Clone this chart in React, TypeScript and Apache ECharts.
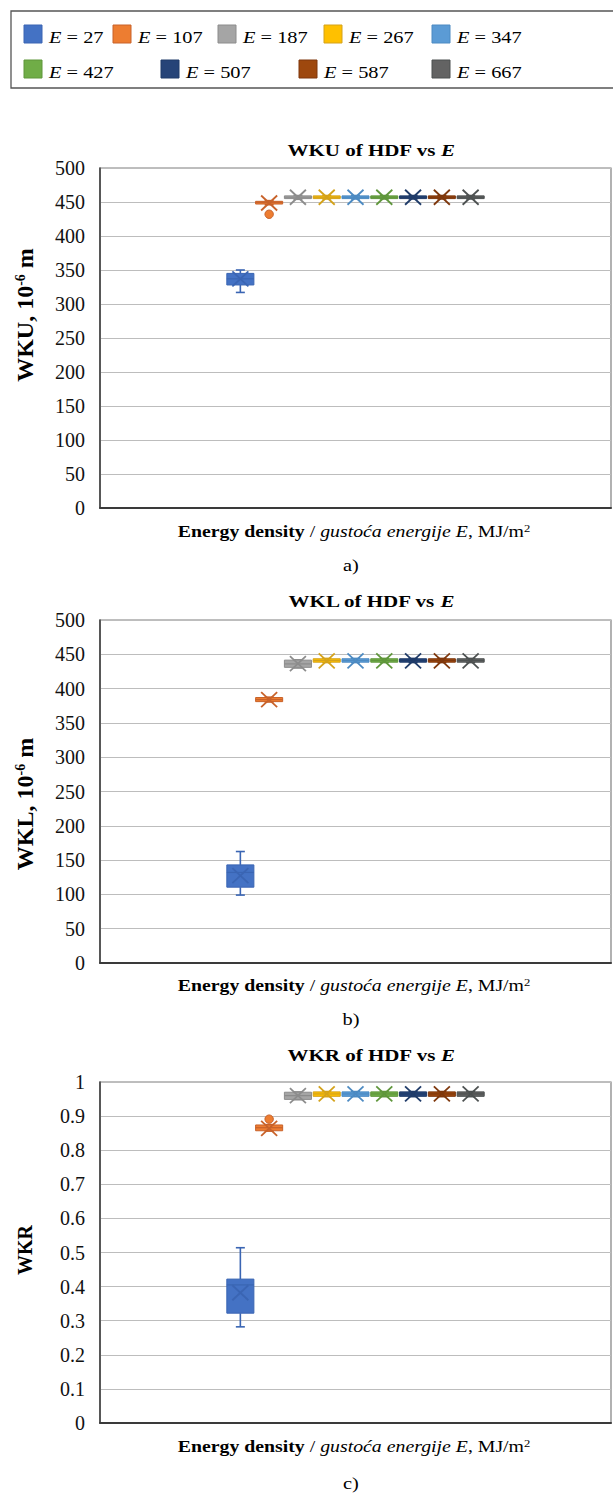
import React, { useEffect, useRef } from 'react';
import * as echarts from 'echarts';

// ---------- data ----------
const energies = [27, 107, 187, 267, 347, 427, 507, 587, 667];
const fillColors = ['#4472C4', '#ED7D31', '#A5A5A5', '#FFC000', '#5B9BD5', '#70AD47', '#264478', '#9E480E', '#636363'];
const strokeColors = ['#3A65B3', '#C8622A', '#8C8C8C', '#D4A21A', '#4C8AC2', '#5F963B', '#1F3B69', '#7E370C', '#4D5151'];

// box statistics per energy: [min, Q1, median, Q3, max, mean]
const wkuStats: number[][] = [
  [317, 328, 337, 345, 350, 337],
  [446, 447, 449.5, 451, 452, 448.5],
  [454, 455, 457, 459, 459.5, 457],
  [454.5, 455, 457, 459, 459.5, 457],
  [454.5, 455, 457, 459, 459.5, 457],
  [454.5, 455, 457, 459, 459.5, 457],
  [454.5, 455, 457, 459, 459.5, 457],
  [454.5, 455, 457, 459, 459.5, 457],
  [454.5, 455, 457, 459, 459.5, 457],
];
const wkuOutliers: number[][] = [[1, 432]];

const wklStats: number[][] = [
  [99, 110.5, 132, 143, 162.5, 127.5],
  [380.5, 381, 384, 387, 387.5, 384],
  [430, 431, 436, 441.5, 442, 436.5],
  [438, 438.5, 441, 443.5, 444, 440.5],
  [438, 438.5, 441, 443.5, 444, 440.5],
  [438, 438.5, 441, 443.5, 444, 440.5],
  [438, 438.5, 441, 443.5, 444, 440.5],
  [438, 438.5, 441, 443.5, 444, 440.5],
  [438, 438.5, 441, 443.5, 444, 440.5],
];
const wklOutliers: number[][] = [];

const wkrStats: number[][] = [
  [0.282, 0.322, 0.405, 0.422, 0.514, 0.382],
  [0.856, 0.857, 0.866, 0.874, 0.875, 0.864],
  [0.948, 0.949, 0.96, 0.97, 0.971, 0.96],
  [0.957, 0.958, 0.965, 0.971, 0.972, 0.965],
  [0.957, 0.958, 0.965, 0.971, 0.972, 0.965],
  [0.957, 0.958, 0.965, 0.971, 0.972, 0.965],
  [0.957, 0.958, 0.965, 0.971, 0.972, 0.965],
  [0.957, 0.958, 0.965, 0.971, 0.972, 0.965],
  [0.957, 0.958, 0.965, 0.971, 0.972, 0.965],
];
const wkrOutliers: number[][] = [[1, 0.891]];

const yMaxes = [500, 500, 1];
const yIntervals = [50, 50, 0.1];
const titleNames = ['WKU', 'WKL', 'WKR'];
const captions = ['a)', 'b)', 'c)'];

// ---------- layout ----------
const FONT = 'Liberation Serif';
const SX = 1.2; // horizontal stretch of the reference's lettering
const gridTops = [168, 620, 1082];
const gridHeights = [340, 343, 341];
const titleYs = [150, 601, 1055];
const yNameYs = [315, 804, 1250];
const yNameSizes = [24, 24, 20];
const xNameYs = [532, 986, 1447];
const captionYs = [565, 1019, 1483];
const GROUP_FRACTION = 0.507;

const panelStats = [wkuStats, wklStats, wkrStats];
const panelOutliers = [wkuOutliers, wklOutliers, wkrOutliers];

function makeRenderItem(outliers: number[][]) {
  return (params: any, api: any) => {
    const idx = api.value(7);
    const base = api.coord([0, 0]);
    const band = api.size([1, 0])[0];
    const groupW = band * GROUP_FRACTION;
    const slot = groupW / energies.length;
    const cx = base[0] - groupW / 2 + slot * (idx + 0.5);
    const bw = slot * 0.94;
    const yv = (v: number) => api.coord([0, v])[1];
    const mn = yv(api.value(1));
    const q1 = yv(api.value(2));
    const md = yv(api.value(3));
    const q3 = yv(api.value(4));
    const mx = yv(api.value(5));
    const mean = yv(api.value(6));
    const stroke = strokeColors[idx];
    const fill = fillColors[idx];
    const cap = 4.5;
    const lw = 1.6;
    const ls = { stroke, lineWidth: lw };
    const xw = 8;
    const xh = 7.5;
    const children: any[] = [
      { type: 'line', shape: { x1: cx, y1: mx, x2: cx, y2: q3 }, style: ls },
      { type: 'line', shape: { x1: cx - cap, y1: mx, x2: cx + cap, y2: mx }, style: ls },
      { type: 'line', shape: { x1: cx, y1: mn, x2: cx, y2: q1 }, style: ls },
      { type: 'line', shape: { x1: cx - cap, y1: mn, x2: cx + cap, y2: mn }, style: ls },
      {
        type: 'rect',
        shape: { x: cx - bw / 2, y: q3, width: bw, height: Math.max(q1 - q3, 1) },
        style: { fill, stroke, lineWidth: 1 },
      },
      { type: 'line', shape: { x1: cx - bw / 2, y1: md, x2: cx + bw / 2, y2: md }, style: { stroke, lineWidth: 1.2 } },
      { type: 'line', shape: { x1: cx - xw, y1: mean - xh, x2: cx + xw, y2: mean + xh }, style: { stroke, lineWidth: 1.8 } },
      { type: 'line', shape: { x1: cx - xw, y1: mean + xh, x2: cx + xw, y2: mean - xh }, style: { stroke, lineWidth: 1.8 } },
    ];
    outliers
      .filter((o) => o[0] === idx)
      .forEach((o) => {
        children.push({ type: 'circle', shape: { cx, cy: yv(o[1]), r: 4.2 }, style: { fill, stroke, lineWidth: 1 } });
      });
    return { type: 'group', children };
  };
}

const richBase = { fontFamily: FONT, color: '#000' };

function buildOption() {
  const grids: any[] = [];
  const xAxes: any[] = [];
  const yAxes: any[] = [];
  const series: any[] = [];
  const graphic: any[] = [];

  for (let p = 0; p < 3; p++) {
    grids.push({
      left: 100,
      right: 2,
      top: gridTops[p],
      height: gridHeights[p],
      show: true,
      borderColor: '#7F7F7F',
      borderWidth: 1.2,
      containLabel: false,
    });
    xAxes.push({
      type: 'category',
      gridIndex: p,
      data: [''],
      axisLine: { show: true, lineStyle: { color: '#3A3A3A', width: 2 } },
      axisTick: { show: false },
      axisLabel: { show: false },
      splitLine: { show: false },
    });
    yAxes.push({
      type: 'value',
      gridIndex: p,
      min: 0,
      max: yMaxes[p],
      interval: yIntervals[p],
      axisLine: { show: true, lineStyle: { color: '#3A3A3A', width: 1.5 } },
      axisTick: { show: false },
      axisLabel: { fontFamily: FONT, fontSize: 20, color: '#111', margin: 15 },
      splitLine: { show: true, lineStyle: { color: '#BDBDBD', width: 1.2 } },
    });
    series.push({
      type: 'custom',
      xAxisIndex: p,
      yAxisIndex: p,
      renderItem: makeRenderItem(panelOutliers[p]),
      encode: { x: 0, y: [1, 2, 3, 4, 5, 6] },
      data: panelStats[p].map((s, i) => [0, ...s, i]),
      clip: false,
    });

    // title
    graphic.push({
      type: 'text',
      x: 371,
      y: titleYs[p],
      scaleX: SX,
      style: {
        text: `{b|${titleNames[p]} of HDF vs }{bi|E}`,
        align: 'center',
        verticalAlign: 'middle',
        rich: {
          b: { ...richBase, fontSize: 17.5, fontWeight: 'bold' },
          bi: { ...richBase, fontSize: 17.5, fontWeight: 'bold', fontStyle: 'italic' },
        },
      },
    });
    // y axis name
    const yName = p < 2 ? `{b|${titleNames[p]}, 10}{s|-6}{b| m}` : `{b|${titleNames[p]}}`;
    graphic.push({
      type: 'text',
      x: 25,
      y: yNameYs[p],
      rotation: Math.PI / 2,
      style: {
        text: yName,
        align: 'center',
        verticalAlign: 'middle',
        rich: {
          b: { ...richBase, fontSize: yNameSizes[p], fontWeight: 'bold' },
          s: { ...richBase, fontSize: 14, fontWeight: 'bold', verticalAlign: 'top' },
        },
      },
    });
    // x axis name
    graphic.push({
      type: 'text',
      x: 354,
      y: xNameYs[p],
      scaleX: SX,
      style: {
        text: '{b|Energy density}{n| / }{i|gustoća energije E}{n|, MJ/m}{s|2}',
        align: 'center',
        verticalAlign: 'middle',
        rich: {
          b: { ...richBase, fontSize: 16.5, fontWeight: 'bold' },
          n: { ...richBase, fontSize: 16.5 },
          i: { ...richBase, fontSize: 16.5, fontStyle: 'italic' },
          s: { ...richBase, fontSize: 10.5, verticalAlign: 'top' },
        },
      },
    });
    // caption
    graphic.push({
      type: 'text',
      x: 351,
      y: captionYs[p],
      scaleX: SX,
      style: { text: captions[p], align: 'center', verticalAlign: 'middle', fontFamily: FONT, fontSize: 17, fill: '#000' },
    });
  }

  // legend (drawn as graphic)
  graphic.push({
    type: 'rect',
    shape: { x: 11, y: 11, width: 620, height: 77 },
    style: { fill: 'none', stroke: '#555', lineWidth: 1.3 },
  });
  const legendSquareX = [24, 113, 218, 324, 432, 24, 161, 299, 432];
  const legendRowY = [34, 69];
  energies.forEach((e, k) => {
    const row = k < 5 ? 0 : 1;
    const sx = legendSquareX[k];
    const cy = legendRowY[row];
    graphic.push({
      type: 'rect',
      shape: { x: sx, y: cy - 9, width: 18, height: 18 },
      style: { fill: fillColors[k], stroke: strokeColors[k], lineWidth: 1 },
    });
    graphic.push({
      type: 'text',
      x: sx + 25,
      y: cy + 3,
      scaleX: SX,
      style: {
        text: `{i|E}{n| = ${e}}`,
        align: 'left',
        verticalAlign: 'middle',
        rich: {
          i: { ...richBase, fontSize: 17, fontStyle: 'italic' },
          n: { ...richBase, fontSize: 17 },
        },
      },
    });
  });

  return {
    animation: false,
    backgroundColor: '#fff',
    grid: grids,
    xAxis: xAxes,
    yAxis: yAxes,
    series,
    graphic,
  };
}

export default function App() {
  const ref = useRef<HTMLDivElement>(null);
  useEffect(() => {
    document.body.style.margin = '0';
    const chart = echarts.init(ref.current as HTMLDivElement, null, { renderer: 'svg' });
    chart.setOption(buildOption() as any);
    return () => chart.dispose();
  }, []);
  return <div ref={ref} style={{ width: 613, height: 1501 }} />;
}
